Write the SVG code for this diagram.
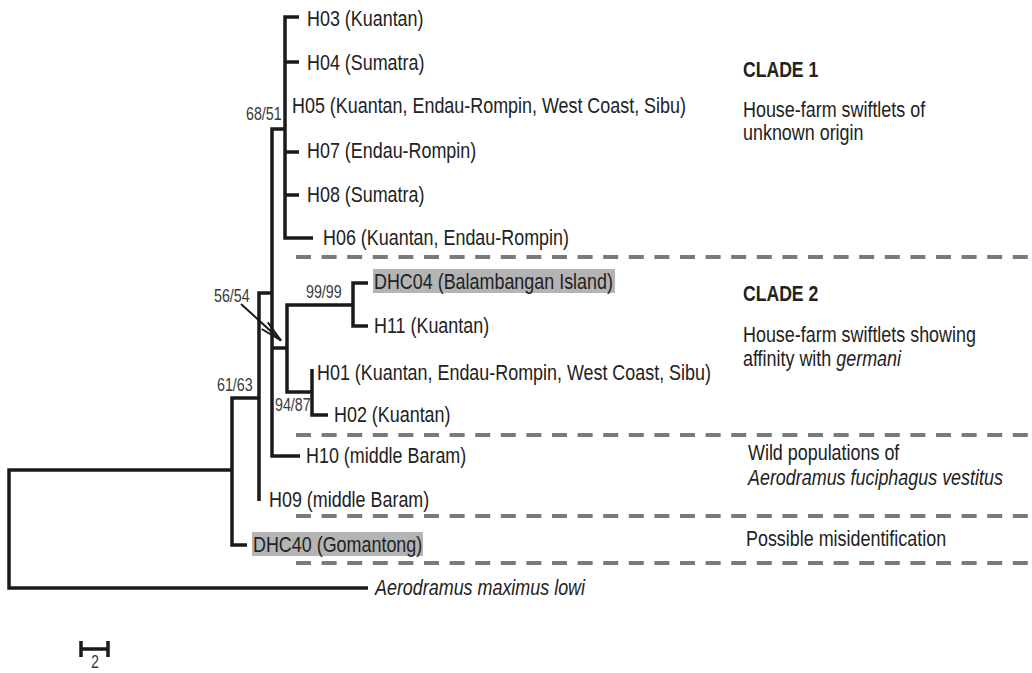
<svg xmlns="http://www.w3.org/2000/svg" width="1032" height="673" viewBox="0 0 1032 673">
<style>
text{font-family:"Liberation Sans",Arial,sans-serif;fill:#222}
.lab{font-size:22px}
.bs{font-size:17.5px;fill:#3a3a3a}
.it{font-style:italic}
.bold{font-weight:bold}
.br{fill:none;stroke:#1a1a1a;stroke-width:3.5;stroke-linejoin:miter}
.dash{stroke:#7a7a7a;stroke-width:4;stroke-dasharray:15 10.6}
.hl{fill:#b4b4b4}
</style>
<defs>
<marker id="arr" markerUnits="userSpaceOnUse" markerWidth="26" markerHeight="12" viewBox="0 0 26 12" refX="23" refY="6" orient="auto">
<path d="M1,1.5 L23,6 L1,10.5" fill="none" stroke="#1a1a1a" stroke-width="2"/>
</marker>
</defs>
<rect width="1032" height="673" fill="#fff"/>

<g id="separators">
<line class="dash" x1="296" y1="257" x2="1032" y2="257"/>
<line class="dash" x1="296" y1="435" x2="1032" y2="435"/>
<line class="dash" x1="296" y1="516" x2="1032" y2="516"/>
<line class="dash" x1="296" y1="563" x2="1032" y2="563"/>
</g>

<g id="connectors">
<path class="br" d="M232,470 H9 V588 H368"/>
<path class="br" d="M259,398 H232 V545 H247"/>
<path class="br" d="M272,293 H259 V501"/>
<path class="br" d="M285,129 H272 V456 H300 M272,348 H287"/>
<path class="br" d="M299,17 H285 V238 H313 M285,62 H299 M285,152 H299 M285,195 H299"/>
<path class="br" d="M353,305 H287 V392 H312"/>
<path class="br" d="M368,283 H353 V326 H368"/>
<path class="br" d="M312,369 V415 H328"/>
<line x1="241" y1="304" x2="281" y2="340.5" stroke="#1a1a1a" stroke-width="2" marker-end="url(#arr)"/>
</g>

<g id="H03"><text class="lab" transform="translate(307,26) scale(0.815 1)">H03 (Kuantan)</text></g>
<g id="H04"><text class="lab" transform="translate(307,70) scale(0.815 1)">H04 (Sumatra)</text></g>
<g id="H05"><text class="lab" transform="translate(292,113) scale(0.815 1)">H05 (Kuantan, Endau-Rompin, West Coast, Sibu)</text></g>
<g id="H07"><text class="lab" transform="translate(307,158) scale(0.815 1)">H07 (Endau-Rompin)</text></g>
<g id="H08"><text class="lab" transform="translate(307,202) scale(0.815 1)">H08 (Sumatra)</text></g>
<g id="H06"><text class="lab" transform="translate(323,245) scale(0.815 1)">H06 (Kuantan, Endau-Rompin)</text></g>
<g id="DHC04"><rect class="hl" x="373" y="269" width="242" height="24"/><text class="lab" transform="translate(374,289) scale(0.815 1)">DHC04 (Balambangan Island)</text></g>
<g id="H11"><text class="lab" transform="translate(374,333) scale(0.815 1)">H11 (Kuantan)</text></g>
<g id="H01"><text class="lab" transform="translate(317,380) scale(0.815 1)">H01 (Kuantan, Endau-Rompin, West Coast, Sibu)</text></g>
<g id="H02"><text class="lab" transform="translate(334,422) scale(0.815 1)">H02 (Kuantan)</text></g>
<g id="H10"><text class="lab" transform="translate(306,463) scale(0.815 1)">H10 (middle Baram)</text></g>
<g id="H09"><text class="lab" transform="translate(269,507) scale(0.815 1)">H09 (middle Baram)</text></g>
<g id="DHC40"><rect class="hl" x="252" y="532" width="171" height="24"/><text class="lab" transform="translate(253,552) scale(0.815 1)">DHC40 (Gomantong)</text></g>
<g id="outgroup"><text class="lab it" transform="translate(375,595) scale(0.815 1)">Aerodramus maximus lowi</text></g>

<g id="support">
<text class="bs" transform="translate(246,120) scale(0.815 1)">68/51</text>
<text class="bs" transform="translate(214,302) scale(0.815 1)">56/54</text>
<text class="bs" transform="translate(306,298) scale(0.815 1)">99/99</text>
<text class="bs" transform="translate(275,411) scale(0.815 1)">94/87</text>
<text class="bs" transform="translate(217,391) scale(0.815 1)">61/63</text>
</g>

<g id="clade1">
<text class="lab bold" transform="translate(743,77) scale(0.8 1)">CLADE 1</text>
<text class="lab" transform="translate(743,117) scale(0.815 1)">House-farm swiftlets of</text>
<text class="lab" transform="translate(743,140) scale(0.815 1)">unknown origin</text>
</g>
<g id="clade2">
<text class="lab bold" transform="translate(743,301) scale(0.8 1)">CLADE 2</text>
<text class="lab" transform="translate(743,342) scale(0.815 1)">House-farm swiftlets showing</text>
<text class="lab" transform="translate(743,366) scale(0.815 1)">affinity with <tspan class="it">germani</tspan></text>
</g>
<g id="wild">
<text class="lab" transform="translate(748,460) scale(0.815 1)">Wild populations of</text>
<text class="lab it" transform="translate(748,485) scale(0.815 1)">Aerodramus fuciphagus vestitus</text>
</g>
<g id="misid">
<text class="lab" transform="translate(746,546) scale(0.815 1)">Possible misidentification</text>
</g>

<g id="scalebar">
<path class="br" d="M81,641 V657 M81,649 H108 M108,641 V657"/>
<text class="bs" transform="translate(95,668) scale(0.815 1)" text-anchor="middle">2</text>
</g>
</svg>
